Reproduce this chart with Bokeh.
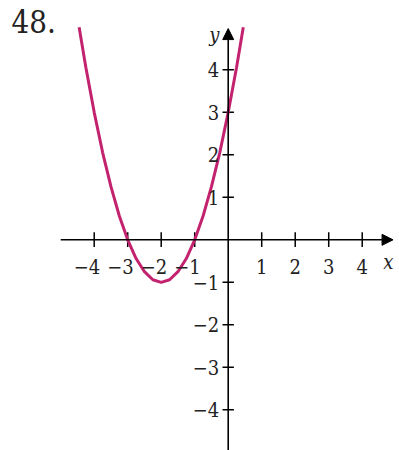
from bokeh.plotting import figure
from bokeh.models import Range1d, Arrow, NormalHead
from bokeh.core.properties import value
from bokeh.embed import file_html
from bokeh.resources import INLINE

# curve points
curve_x = [-4.45, -4.25, -4.0, -3.75, -3.5, -3.25, -3.0, -2.75, -2.5, -2.25, -2.0,
           -1.75, -1.5, -1.25, -1.0, -0.75, -0.5, -0.25, 0.0, 0.25, 0.45]
curve_y = [5.0, 4.06, 3.0, 2.06, 1.25, 0.56, 0.0, -0.44, -0.75, -0.94, -1.0,
           -0.94, -0.75, -0.44, 0.0, 0.56, 1.25, 2.06, 3.0, 4.06, 5.0]

x_neg_ticks = [-4, -3, -2, -1]
x_neg_labels = ["\u22124", "\u22123", "\u22122", "\u22121"]
x_pos_ticks = [1, 2, 3, 4]
x_pos_labels = ["1", "2", "3", "4"]
y_ticks = [4, 3, 2, 1, -1, -2, -3, -4]
y_labels = ["4", "3", "2", "1", "\u22121", "\u22122", "\u22123", "\u22124"]

W, H = 399, 450
p = figure(width=W, height=H, output_backend="svg", toolbar_location=None,
           x_range=Range1d(-6.797, 5.113), y_range=Range1d(-4.957, 5.631),
           min_border=0, outline_line_color=None)
p.axis.visible = False
p.grid.visible = False
p.background_fill_color = "white"
p.border_fill_color = "white"

serif = value("DejaVu Serif Condensed")

# axes
p.add_layout(Arrow(end=NormalHead(size=11, fill_color="black", line_color="black", line_width=1),
                   x_start=-5.0, y_start=0, x_end=4.92, y_end=0,
                   line_color="black", line_width=1.6))
p.add_layout(Arrow(end=NormalHead(size=11, fill_color="black", line_color="black", line_width=1),
                   x_start=0, y_start=-5.0, x_end=0, y_end=4.97,
                   line_color="black", line_width=1.6))

# x ticks
xt = x_neg_ticks + x_pos_ticks
p.segment(x0=xt, y0=[-0.17] * len(xt), x1=xt, y1=[0.18] * len(xt),
          line_color="black", line_width=1.5)
# y ticks
p.segment(x0=[-0.17] * len(y_ticks), y0=y_ticks, x1=[0.17] * len(y_ticks), y1=y_ticks,
          line_color="black", line_width=1.5)

# curve
p.line(curve_x, curve_y, line_color="#C2226E", line_width=3)

# labels
p.text(x=x_neg_ticks, y=[0] * 4, text=x_neg_labels, text_font=serif,
       text_font_size="20px", text_align="right", text_baseline="middle",
       x_offset=6, y_offset=27, text_color="#222222")
p.text(x=x_pos_ticks, y=[0] * 4, text=x_pos_labels, text_font=serif,
       text_font_size="20px", text_align="center", text_baseline="middle",
       y_offset=27, text_color="#222222")
p.text(x=[0] * len(y_ticks), y=y_ticks, text=y_labels, text_font=serif,
       text_font_size="20px", text_align="right", text_baseline="middle",
       x_offset=-9, text_color="#222222")

p.text(x=[4.9], y=[0], text=["x"], text_font=serif, text_font_style="italic",
       text_font_size="20px", text_align="center", text_baseline="middle",
       x_offset=-4, y_offset=22, text_color="#222222")
p.text(x=[0], y=[4.97], text=["y"], text_font=serif, text_font_style="italic",
       text_font_size="20px", text_align="center", text_baseline="middle",
       x_offset=-14, y_offset=6, text_color="#222222")

p.text(x=[-6.797], y=[5.631], text=["48."], text_font=serif,
       text_font_size="31px", text_align="left", text_baseline="top",
       x_offset=11, y_offset=9, text_color="#222222")

open("out.html", "w").write(file_html(p, INLINE))
